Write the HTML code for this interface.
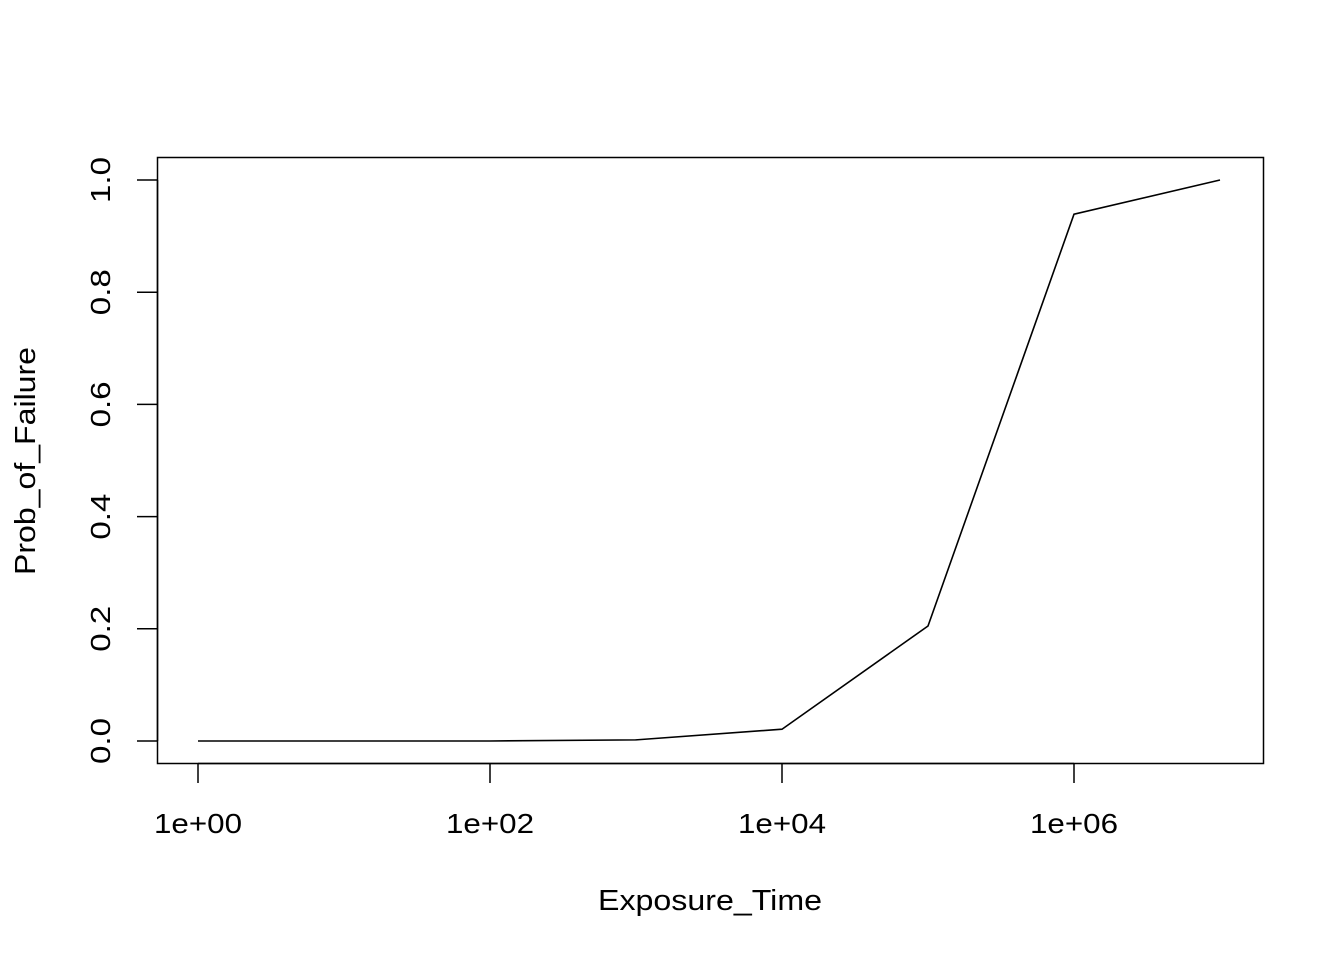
<!DOCTYPE html>
<html><head><meta charset="utf-8"><style>
html,body{margin:0;padding:0;background:#fff;}
svg{display:block;font-family:"Liberation Sans",Arial,sans-serif;}
</style></head><body>
<svg id="chart" width="1344" height="960" viewBox="0 0 1344 960" xmlns="http://www.w3.org/2000/svg">
<rect x="157.5" y="157.5" width="1106" height="606" fill="none" stroke="#000" stroke-width="1.5"/>
<g id="xaxis"></g>
<g id="yaxis"></g>
<path id="line" fill="none" stroke="#000" stroke-width="1.6"/>
<text x="710" y="910" font-size="29" text-anchor="middle" textLength="224" lengthAdjust="spacingAndGlyphs">Exposure_Time</text>
<text transform="translate(35,461) rotate(-90)" font-size="29" text-anchor="middle" textLength="228" lengthAdjust="spacingAndGlyphs">Prob_of_Failure</text>
</svg>
<script>
const logTimes = [0,1,2,3,4,5,6,7];
const probValues = [0,0,0,0.002,0.021,0.205,0.939,1.0];
const xTickLogs = [0,2,4,6];
const xTickLabels = ["1e+00","1e+02","1e+04","1e+06"];
const yTicks = [0,0.2,0.4,0.6,0.8,1.0];
const yTickLabels = ["0.0","0.2","0.4","0.6","0.8","1.0"];

const NS="http://www.w3.org/2000/svg";
const xs = l => 198 + l*146;
const ys = v => 741 - v*561;
const xa=document.getElementById('xaxis'), ya=document.getElementById('yaxis');
function mk(tag,attrs,parent){const e=document.createElementNS(NS,tag);for(const k in attrs)e.setAttribute(k,attrs[k]);parent.appendChild(e);return e;}
mk('line',{x1:xs(xTickLogs[0]),x2:xs(xTickLogs[xTickLogs.length-1]),y1:763.5,y2:763.5,stroke:'#000','stroke-width':1.5},xa);
xTickLogs.forEach((l,i)=>{
  const t=mk('line',{x1:xs(l),x2:xs(l),y1:763,y2:783,stroke:'#000','stroke-width':1.5},xa);
  
  
  const tx=mk('text',{x:xs(l),y:833,'font-size':28,'text-anchor':'middle',textLength:88,lengthAdjust:'spacingAndGlyphs'},xa);
  tx.textContent=xTickLabels[i];
  
  
});
mk('line',{x1:157.5,x2:157.5,y1:ys(yTicks[0]),y2:ys(yTicks[yTicks.length-1]),stroke:'#000','stroke-width':1.5},ya);
yTicks.forEach((v,i)=>{
  const t=mk('line',{x1:137,x2:157,y1:ys(v),y2:ys(v),stroke:'#000','stroke-width':1.5},ya);
  
  
  const tx=mk('text',{transform:`translate(110,${ys(v)}) rotate(-90)`,'font-size':28,'text-anchor':'middle',textLength:46,lengthAdjust:'spacingAndGlyphs'},ya);
  tx.textContent=yTickLabels[i];
  
  
});
document.getElementById('line').setAttribute('d',logTimes.map((l,i)=>(i?'L':'M')+xs(l)+','+ys(probValues[i])).join(' '));
</script>
</body></html>
